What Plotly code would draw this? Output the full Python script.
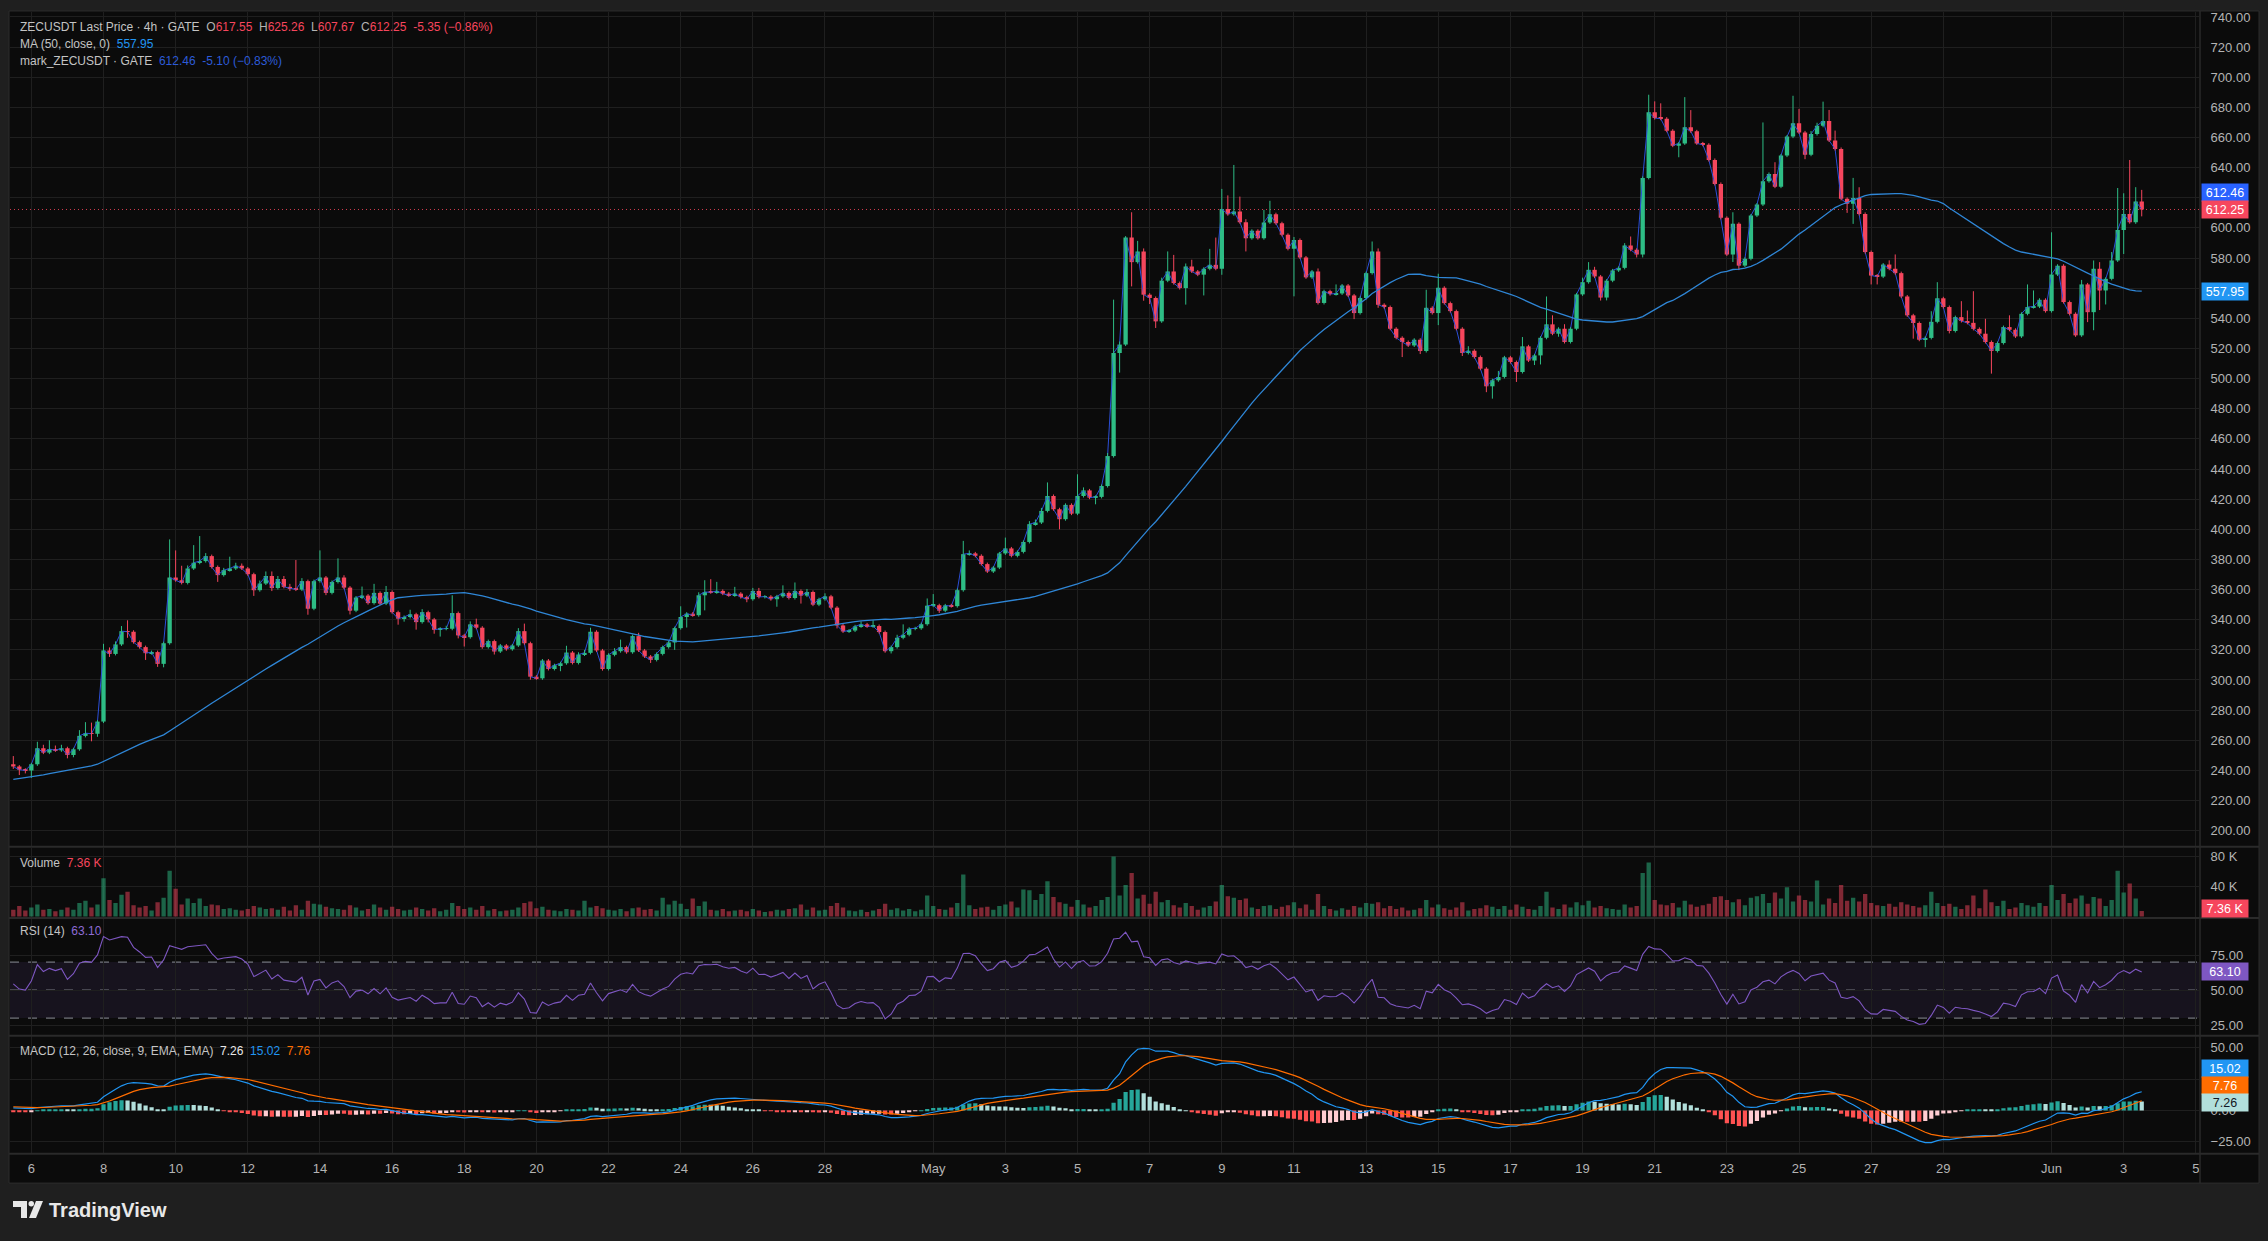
import pandas as pd
import plotly.graph_objects as go

W, H = 2268, 1241
def px(x): return x / W
def py(y): return 1 - y / H

FIRST_CANDLE = "2026-04-05 12:00"
X_RANGE = ["2026-04-05 09:48", "2026-06-05 02:06"]

# closes of the candles before the visible window (used only for indicator warm-up)
prior_closes = [214, 216, 213, 217, 219, 216, 218, 221, 219, 220, 218, 222, 224, 221, 223,
                226, 229, 232, 230, 234, 237, 235, 238, 240, 243, 241, 239, 242, 244, 241,
                243, 246, 244, 242, 245, 243, 240, 242, 244, 247, 245, 243, 241, 244, 246, 243, 241, 243, 244]

closes = [
    242.5, 240.4, 240.0, 244.0, 254.7, 251.8, 254.2, 253.3, 254.7, 250.2,
    254.0, 262.9, 264.7, 264.3, 272.4, 319.6, 317.3, 323.6, 332.4, 332.0,
    325.1, 321.8, 317.8, 318.5, 310.7, 324.4, 368.0, 366.2, 364.4, 374.0,
    377.8, 378.9, 382.2, 375.0, 369.6, 372.9, 374.0, 375.8, 374.0, 370.2,
    359.6, 364.0, 369.0, 361.0, 367.0, 361.8, 361.0, 360.0, 365.6, 347.3,
    365.6, 368.0, 357.8, 365.0, 368.0, 361.3, 346.0, 354.7, 356.0, 351.0,
    357.8, 350.7, 358.4, 345.0, 340.7, 341.8, 343.6, 338.4, 345.0, 340.2,
    333.3, 334.0, 334.0, 344.4, 329.6, 328.4, 336.9, 334.7, 321.8, 325.8,
    318.9, 322.9, 320.4, 322.9, 332.4, 324.4, 302.2, 301.1, 312.9, 307.3,
    309.8, 311.1, 318.2, 311.3, 316.9, 318.0, 332.0, 319.6, 307.3, 316.7,
    319.1, 321.8, 318.4, 329.1, 319.6, 315.6, 313.3, 317.3, 321.8, 324.9,
    334.4, 341.8, 344.0, 343.0, 356.2, 358.4, 358.2, 359.1, 357.3, 356.2,
    357.3, 355.0, 353.6, 359.1, 355.1, 355.3, 353.6, 355.5, 357.8, 354.4,
    359.1, 356.0, 358.4, 350.0, 353.6, 355.5, 348.0, 336.2, 332.2, 332.8,
    335.6, 336.9, 335.6, 335.8, 331.8, 319.1, 321.8, 328.0, 330.0, 334.0,
    334.3, 337.0, 349.3, 349.6, 346.0, 349.5, 349.0, 359.6, 383.5, 384.0,
    382.4, 376.9, 372.0, 374.6, 384.0, 387.3, 382.4, 385.0, 391.6, 403.4,
    404.5, 412.2, 422.1, 413.3, 406.7, 416.2, 410.4, 422.1, 425.8, 421.0,
    421.5, 428.7, 448.6, 517.0, 522.6, 593.6, 577.3, 584.4, 555.7, 553.5,
    538.0, 565.0, 571.1, 563.4, 560.1, 574.4, 571.1, 569.0, 572.9, 575.5,
    572.9, 612.6, 609.1, 610.9, 603.8, 593.2, 598.1, 593.2, 603.6, 609.1,
    603.1, 595.4, 586.1, 592.0, 580.4, 567.2, 571.1, 550.2, 558.0, 556.1,
    556.5, 561.8, 555.2, 543.5, 553.5, 570.0, 584.4, 549.0, 547.5, 533.1,
    527.1, 524.3, 522.0, 525.8, 518.3, 547.0, 543.5, 560.3, 550.1, 544.8,
    533.1, 517.0, 518.5, 514.3, 506.6, 494.9, 498.9, 501.1, 514.1, 511.0,
    504.4, 521.4, 512.0, 515.4, 527.1, 536.0, 529.8, 533.1, 524.3, 533.1,
    555.9, 564.0, 572.2, 567.8, 553.8, 565.0, 571.8, 573.5, 588.3, 585.5,
    582.4, 633.2, 676.7, 672.9, 672.5, 664.5, 654.6, 656.1, 666.8, 664.1,
    656.1, 655.2, 645.1, 629.2, 606.7, 582.4, 602.7, 575.0, 579.5, 608.2,
    615.5, 631.0, 635.8, 627.4, 648.0, 660.6, 669.4, 663.4, 648.6, 662.3,
    667.8, 671.0, 658.0, 652.4, 619.3, 616.0, 619.9, 609.3, 584.0, 568.4,
    567.7, 575.7, 572.9, 570.0, 554.5, 542.0, 536.9, 525.8, 527.0, 537.7,
    553.3, 547.5, 531.6, 540.8, 538.2, 537.0, 533.0, 529.8, 524.3, 518.3,
    523.6, 534.2, 532.4, 528.0, 543.0, 547.5, 547.8, 552.3, 544.8, 569.1,
    574.9, 550.8, 543.0, 528.7, 562.5, 544.1, 572.9, 558.5, 566.2, 578.4,
    598.7, 609.3, 603.8, 617.55, 612.25,
]

upper_wicks = [
    5.5, 1, 1, 1, 4.3, 2.3, 5.8, 2.3, 2.3, 1,
    1, 3.8, 7.3, 7, 1, 4.4, 2, 2, 3.4, 7.2,
    1, 1, 1, 1, 1, 1, 25.3, 18, 9.6, 2,
    11.7, 16.6, 2, 1, 1, 1.5, 7.8, 2, 1.5, 1,
    1, 2, 3, 3, 2, 2, 2, 18.6, 2, 1,
    1, 18, 1, 1, 12.7, 1.5, 1, 1, 6, 1,
    6, 1, 4, 1, 1, 1, 3, 1, 2, 1,
    1, 1, 2, 11.8, 1, 1, 2, 3.8, 1, 1,
    1, 1, 1, 1, 2, 5, 1, 1, 1, 1,
    1, 1, 4.5, 1, 1.5, 2, 2.7, 1, 1, 1,
    2, 5, 1, 1, 2.2, 1, 1, 1, 1, 1,
    1, 7.1, 1, 1, 2, 7.8, 8.5, 6, 1, 1,
    4.5, 1, 1, 2, 2, 1, 1, 1, 5, 1,
    5.6, 1, 2, 1, 1, 2, 1, 1, 1, 1,
    1, 2, 1, 3.8, 1, 1, 1, 2, 6.9, 1,
    1, 1, 4.8, 7.4, 1, 1, 1, 1, 8.8, 2,
    1, 1, 1, 1, 1, 7.2, 1, 1, 1, 2,
    2, 2, 9, 1, 1, 1, 1, 14.4, 2, 1,
    1, 1, 2, 35.4, 2, 1, 16.8, 7, 2, 1,
    1, 2, 13.3, 11, 1, 2, 4.5, 1, 1, 10.6,
    18.1, 13.3, 9, 30.9, 9.9, 2, 1, 1, 8.4, 8.9,
    1, 1, 1, 2, 1, 1, 1, 2, 1, 1,
    6, 1, 1, 1, 1, 1, 6.6, 2, 1, 1,
    1, 1, 1, 1, 1, 12, 1, 9.3, 1, 1,
    1, 1, 3, 1, 1, 1, 1, 4, 1, 1,
    1, 6.2, 1, 1, 1, 18.5, 6, 1, 3, 1,
    1, 3, 5.1, 2, 1, 1, 1, 1, 1.6, 6,
    1, 1, 11.7, 7.3, 9.8, 1, 1, 1, 20, 11.4,
    1, 1, 1, 1, 1, 1, 7.7, 1, 1, 1,
    1, 39, 1, 7.8, 1, 1, 18.3, 9.6, 1, 2,
    2, 12.8, 7.3, 6.6, 1, 1, 13.3, 7.1, 1, 1,
    1, 1, 2.8, 9.5, 1, 1, 1, 1, 1, 7,
    10.7, 1, 1, 1, 10.6, 7, 21, 1, 9.9, 1,
    1, 1, 7.8, 1, 1, 15, 10.7, 1, 1, 28,
    1, 1, 1, 1, 3, 1, 5.5, 4.4, 1, 5.6,
    27.8, 13.7, 35.8, 9.5, 7.71,
]

lower_wicks = [
    1.5, 3.5, 2, 5, 1, 1, 1, 1, 1, 2.2,
    1.5, 1, 1, 5, 2, 1, 2, 1, 1, 4,
    1, 1, 4.5, 1, 2, 2.3, 1, 1, 1, 1,
    1, 1, 1, 1, 4.5, 1, 1, 1, 1, 1,
    3.8, 1, 1, 2, 1, 1, 2, 1, 1, 4,
    1, 1, 1.5, 1, 1, 1, 2.5, 1, 1, 1,
    1, 1, 1, 1, 4, 2, 1, 5, 1, 2,
    2.6, 4.5, 1, 1, 2, 6.2, 1, 1, 1.1, 1,
    2, 1, 1, 1, 1, 1, 2, 1, 1, 1,
    1, 4, 1, 1, 1, 1, 1, 1, 1.1, 1,
    1, 1, 1, 1, 1, 1, 2, 1, 1, 1,
    4.9, 1, 7, 1, 1, 10, 1, 1, 1, 1,
    1, 1, 2, 1, 1, 1, 1, 5, 1, 1,
    1, 5.3, 1, 1, 1, 1, 1, 2, 1, 1,
    1, 1, 1, 1, 1, 1, 1.5, 1, 1, 1,
    1, 1, 1, 1, 1.5, 1, 1, 1, 1, 1,
    1, 1, 1, 1, 1, 1, 1, 1, 1, 1,
    1, 1, 1, 1, 6.7, 1, 1, 1, 1, 1,
    4.4, 1, 1, 1, 13, 1, 16.1, 1, 4, 4,
    4.4, 1, 1, 1, 1, 11, 1, 1, 13.8, 1,
    1, 4, 1, 1, 1, 8.8, 1, 1, 1, 1,
    1, 1, 1, 31.5, 1, 1, 1, 1, 1, 1,
    1, 1, 1, 4, 1, 1, 1, 2, 1, 1,
    1, 10, 1, 1, 2, 1, 1, 8, 1, 1,
    1, 2, 1, 1, 1, 3.9, 8.2, 1, 1, 1,
    6.6, 1, 1, 3, 6, 1, 1, 2, 1, 1,
    1, 1, 1, 1, 2, 1.9, 1, 1, 1, 1,
    2, 2, 1, 1, 1, 1, 1, 7.7, 1, 1,
    1, 1, 1, 1, 1, 1, 5, 3, 1, 1,
    1, 1, 1, 1, 1, 1, 1, 1, 3, 1,
    1, 1, 1, 1, 1, 6, 13.3, 1, 1, 5.9,
    5.2, 1, 1, 1, 1, 1, 10.4, 1, 5, 1,
    1, 1, 1.6, 1, 1, 1, 1, 1, 1, 15,
    1, 1, 1, 1, 1, 1, 1, 1, 1, 1,
    1, 1, 1, 1, 1, 6.6, 12, 13, 9.3, 1,
    1, 16, 1, 1.1, 4.58,
]

volumes_k = [
    9, 14, 8, 12, 16, 9, 10, 7, 9, 12,
    9, 18, 21, 12, 16, 51, 22, 18, 29, 33,
    15, 12, 14, 8, 19, 25, 61, 37, 16, 24,
    18, 24, 14, 16, 15, 10, 11, 9, 8, 10,
    14, 12, 10, 11, 9, 13, 8, 15, 9, 21,
    17, 16, 13, 11, 10, 9, 15, 12, 8, 10,
    16, 12, 9, 13, 10, 8, 9, 12, 10, 8,
    11, 7, 9, 18, 14, 10, 12, 9, 14, 8,
    10, 7, 8, 9, 12, 18, 20, 11, 13, 9,
    8, 7, 10, 9, 8, 21, 12, 14, 11, 9,
    8, 10, 7, 11, 12, 9, 10, 8, 25, 16,
    21, 17, 10, 24, 14, 20, 9, 8, 10, 7,
    8, 9, 7, 10, 8, 6, 7, 9, 8, 10,
    11, 16, 9, 12, 8, 9, 14, 18, 12, 8,
    7, 9, 6, 8, 10, 17, 9, 11, 8, 10,
    7, 9, 28, 14, 10, 9, 12, 18, 56, 15,
    10, 12, 13, 9, 14, 16, 20, 12, 36, 35,
    22, 30, 47, 26, 19, 17, 13, 22, 16, 12,
    14, 22, 26, 80, 28, 42, 58, 24, 29, 17,
    33, 19, 22, 15, 12, 18, 14, 9, 12, 14,
    20, 42, 27, 25, 22, 24, 12, 10, 14, 15,
    10, 13, 15, 19, 11, 16, 9, 30, 14, 10,
    8, 11, 9, 14, 12, 18, 17, 19, 11, 14,
    10, 12, 8, 9, 11, 22, 12, 16, 11, 9,
    12, 19, 8, 10, 11, 15, 13, 10, 14, 9,
    16, 13, 10, 9, 14, 33, 12, 10, 16, 12,
    19, 15, 21, 12, 14, 11, 10, 9, 16, 12,
    14, 58, 72, 22, 16, 15, 18, 12, 21, 16,
    13, 15, 17, 26, 27, 22, 19, 23, 15, 25,
    27, 30, 18, 32, 24, 39, 20, 28, 22, 20,
    48, 16, 24, 18, 42, 21, 25, 20, 30, 18,
    15, 14, 17, 13, 19, 16, 14, 12, 15, 33,
    18, 14, 17, 13, 10, 15, 28, 11, 36, 19,
    14, 21, 10, 12, 18, 15, 13, 18, 14, 42,
    22, 30, 18, 24, 28, 17, 26, 24, 14, 22,
    61, 32, 44, 24, 7.36,
]

tick_dates = ["2026-04-06", "2026-04-08", "2026-04-10", "2026-04-12", "2026-04-14", "2026-04-16",
              "2026-04-18", "2026-04-20", "2026-04-22", "2026-04-24", "2026-04-26", "2026-04-28",
              "2026-05-01", "2026-05-03", "2026-05-05", "2026-05-07", "2026-05-09", "2026-05-11",
              "2026-05-13", "2026-05-15", "2026-05-17", "2026-05-19", "2026-05-21", "2026-05-23",
              "2026-05-25", "2026-05-27", "2026-05-29", "2026-06-01", "2026-06-03", "2026-06-05"]
tick_labels = ["6", "8", "10", "12", "14", "16", "18", "20", "22", "24", "26", "28",
               "May", "3", "5", "7", "9", "11", "13", "15", "17", "19", "21", "23",
               "25", "27", "29", "Jun", "3", "5"]
price_ticks = [200, 220, 240, 260, 280, 300, 320, 340, 360, 380, 400, 420, 440, 460,
               480, 500, 520, 540, 560, 580, 600, 620, 640, 660, 680, 700, 720, 740]
price_hidden = [560, 620]          # tick labels hidden behind the value tags
volume_ticks = [40, 80]
volume_labels = ["40 K", "80 K"]
rsi_ticks = [25, 50, 75]
macd_ticks = [-25, 0, 25, 50]
macd_hidden = [25]

last_o, last_h, last_l, last_c = 617.55, 625.26, 607.67, 612.25
last_chg, last_pct = -5.35, -0.86
ma_last = 557.95
mark_last, mark_chg, mark_pct = 612.46, -5.10, -0.83
vol_last = 7.36
rsi_last = 63.10
macd_last, signal_last, hist_last = 15.02, 7.76, 7.26

# ---------------------------------------------------------------- derived
n = len(closes)
t = pd.date_range(FIRST_CANDLE, periods=n, freq="4h")
opens = [prior_closes[-1]] + closes[:-1]
highs = [max(o, c) + u for o, c, u in zip(opens, closes, upper_wicks)]
lows = [min(o, c) - d for o, c, d in zip(opens, closes, lower_wicks)]
up = [c >= o for o, c in zip(opens, closes)]

allc = pd.Series(prior_closes + closes, dtype=float)
k0 = len(prior_closes)
ma50 = allc.rolling(50).mean().iloc[k0:].values
ema12 = allc.ewm(span=12, adjust=False).mean()
ema26 = allc.ewm(span=26, adjust=False).mean()
macd_s = ema12 - ema26
sig_s = macd_s.ewm(span=9, adjust=False).mean()
hist_s = macd_s - sig_s
delta = allc.diff()
gain = delta.clip(lower=0).ewm(alpha=1 / 14, adjust=False).mean()
loss = (-delta.clip(upper=0)).ewm(alpha=1 / 14, adjust=False).mean()
rsi_s = 100 - 100 / (1 + gain / loss)

macd_v = macd_s.iloc[k0:].values
sig_v = sig_s.iloc[k0:].values
hist_all = hist_s.values
hist_v = hist_all[k0:]
rsi_v = rsi_s.iloc[k0:].values

UP = "#2ebd85"
DN = "#f6465d"
GRID = "#1f1f1f"
TXT = "#b4b4b4"
FONT = "Liberation Sans, Arial, sans-serif"
CW = 4 * 3600 * 1000

fig = go.Figure()

# mark price line
mark_series = closes[:-1] + [mark_last]
fig.add_trace(go.Scatter(x=t, y=mark_series, mode="lines", line=dict(color="#2b4fd8", width=1),
                         xaxis="x", yaxis="y", hoverinfo="skip"))

# wicks
for flag, col in ((True, UP), (False, DN)):
    wx, wy = [], []
    for i in range(n):
        if up[i] == flag:
            wx += [t[i], t[i], None]
            wy += [lows[i], highs[i], None]
    fig.add_trace(go.Scatter(x=wx, y=wy, mode="lines", line=dict(color=col, width=1),
                             xaxis="x", yaxis="y", hoverinfo="skip"))

# bodies
fig.add_trace(go.Bar(x=t, y=[max(abs(c - o), 0.5) for o, c in zip(opens, closes)],
                     base=[min(o, c) for o, c in zip(opens, closes)], width=CW * 0.72,
                     marker=dict(color=[UP if u else DN for u in up], line=dict(width=0)),
                     xaxis="x", yaxis="y", hoverinfo="skip"))

# MA 50
fig.add_trace(go.Scatter(x=t, y=ma50, mode="lines", line=dict(color="#2f86d6", width=1.3),
                         xaxis="x", yaxis="y", hoverinfo="skip"))

# volume
fig.add_trace(go.Bar(x=t, y=volumes_k, width=CW * 0.72,
                     marker=dict(color=["rgba(46,189,133,0.5)" if u else "rgba(246,70,93,0.5)" for u in up],
                                 line=dict(width=0)),
                     xaxis="x2", yaxis="y2", hoverinfo="skip"))

# RSI
fig.add_trace(go.Scatter(x=t, y=rsi_v, mode="lines", line=dict(color="#7e57c2", width=1.1),
                         xaxis="x3", yaxis="y3", hoverinfo="skip"))

# MACD histogram
hcols = []
for i in range(n):
    h = hist_all[k0 + i]
    p = hist_all[k0 + i - 1]
    if h >= 0:
        hcols.append("#26a69a" if h >= p else "#b2dfdb")
    else:
        hcols.append("#ff5252" if h < p else "#ffcdd2")
fig.add_trace(go.Bar(x=t, y=hist_v, width=CW * 0.7, marker=dict(color=hcols, line=dict(width=0)),
                     xaxis="x4", yaxis="y4", hoverinfo="skip"))
fig.add_trace(go.Scatter(x=t, y=macd_v, mode="lines", line=dict(color="#2196f3", width=1.2),
                         xaxis="x4", yaxis="y4", hoverinfo="skip"))
fig.add_trace(go.Scatter(x=t, y=sig_v, mode="lines", line=dict(color="#ff6d00", width=1.2),
                         xaxis="x4", yaxis="y4", hoverinfo="skip"))

# ---------------------------------------------------------------- layout
xdom = [px(10), px(2199)]
def xax(anchor, labels=False):
    d = dict(domain=xdom, anchor=anchor, type="date", range=X_RANGE, tickmode="array",
             tickvals=tick_dates, showgrid=True, gridcolor=GRID, gridwidth=1, zeroline=False,
             showline=False, showticklabels=labels, fixedrange=True)
    if labels:
        d.update(ticktext=tick_labels, tickfont=dict(family=FONT, size=13, color=TXT), ticks="outside",
                 ticklen=3, tickcolor="rgba(0,0,0,0)")
    return d

def yax(anchor, dom, rng, vals, text):
    return dict(domain=dom, anchor=anchor, range=rng, side="right", tickmode="array", tickvals=vals,
                ticktext=text, showgrid=True, gridcolor=GRID, gridwidth=1, zeroline=False, showline=False,
                ticks="outside", ticklen=8, tickcolor="rgba(0,0,0,0)",
                tickfont=dict(family=FONT, size=13, color=TXT), fixedrange=True)

def fmt_ticks(vals, hidden=()):
    return ["" if v in hidden else f"{v:.2f}" for v in vals]

layout = dict(
    width=W, height=H, margin=dict(l=0, r=0, t=0, b=0),
    paper_bgcolor="#1f1f1f", plot_bgcolor="rgba(0,0,0,0)",
    showlegend=False, barmode="overlay", hovermode=False,
    xaxis=xax("y"), xaxis2=xax("y2"), xaxis3=xax("y3"), xaxis4=xax("y4", labels=True),
    yaxis=yax("x", [py(845), py(10)], [190.06, 743.31], price_ticks, fmt_ticks(price_ticks, price_hidden)),
    yaxis2=yax("x2", [py(917), py(847)], [-1.33, 92.0], volume_ticks, volume_labels),
    yaxis3=yax("x3", [py(1035), py(918)], [17.7, 101.1], rsi_ticks, fmt_ticks(rsi_ticks)),
    yaxis4=yax("x4", [py(1153), py(1036)], [-34.0, 59.2], macd_ticks,
               [("\u221225.00" if v < 0 else f"{v:.2f}") if v not in macd_hidden else "" for v in macd_ticks]),
)
fig.update_layout(**layout)

shapes = []
# chart frame
shapes.append(dict(type="rect", xref="paper", yref="paper", x0=px(9), x1=px(2259), y0=py(1183), y1=py(9),
                   fillcolor="#0b0b0b", line=dict(color="#2c2c2c", width=1), layer="below"))
for yy in (846, 917.5, 1035.5, 1153.5):
    shapes.append(dict(type="line", xref="paper", yref="paper", x0=px(9), x1=px(2259), y0=py(yy), y1=py(yy),
                       line=dict(color="#2a2a2a", width=2), layer="above"))
shapes.append(dict(type="line", xref="paper", yref="paper", x0=px(2200), x1=px(2200), y0=py(1183), y1=py(9),
                   line=dict(color="#2a2a2a", width=1.5), layer="above"))
# last price line
shapes.append(dict(type="line", xref="x domain", yref="y", x0=0, x1=1, y0=last_c, y1=last_c,
                   line=dict(color="rgba(246,70,93,0.85)", width=1, dash="1px,3px"), layer="below"))
# RSI band
shapes.append(dict(type="rect", xref="x3 domain", yref="y3", x0=0, x1=1, y0=30, y1=70,
                   fillcolor="rgba(126,87,194,0.11)", line=dict(width=0), layer="below"))
for lv in (70, 50, 30):
    shapes.append(dict(type="line", xref="x3 domain", yref="y3", x0=0, x1=1, y0=lv, y1=lv,
                       line=dict(color="#8a8d96", width=1, dash="dash"), layer="below"))

# TradingView logo
def path(pts):
    s = ""
    for i, (a, b) in enumerate(pts):
        s += ("M" if i == 0 else "L") + f"{px(a):.6f},{py(b):.6f} "
    return s + "Z"
shapes.append(dict(type="path", xref="paper", yref="paper",
                   path=path([(13, 1201), (27, 1201), (27, 1218), (21, 1218), (21, 1207), (13, 1207)]),
                   fillcolor="#e8e8e8", line=dict(width=0)))
shapes.append(dict(type="circle", xref="paper", yref="paper", x0=px(28.5), x1=px(34), y0=py(1206.5), y1=py(1201),
                   fillcolor="#e8e8e8", line=dict(width=0)))
shapes.append(dict(type="path", xref="paper", yref="paper",
                   path=path([(29, 1218), (36, 1201), (43, 1201), (36, 1218)]),
                   fillcolor="#e8e8e8", line=dict(width=0)))
fig.update_layout(shapes=shapes)

def span(txt, col):
    return f'<span style="color:{col}">{txt}</span>'

NB = "\u00a0"
def sgn(v):
    return ("\u2212" if v < 0 else "") + f"{abs(v):.2f}"

ann = []
def text_ann(x, y, text, size=12):
    ann.append(dict(xref="paper", yref="paper", x=px(x), y=py(y), xanchor="left", yanchor="middle",
                    text=text, showarrow=False, font=dict(family=FONT, size=size, color=TXT)))

line1 = (span("ZECUSDT Last Price · 4h · GATE", "#c4c4c4") + NB * 2 +
         "O" + span(f"{last_o:.2f}", DN) + NB * 2 + "H" + span(f"{last_h:.2f}", DN) + NB * 2 +
         "L" + span(f"{last_l:.2f}", DN) + NB * 2 + "C" + span(f"{last_c:.2f}", DN) + NB * 2 +
         span(f"{last_chg:.2f} ({sgn(last_pct)}%)", DN))
text_ann(18, 25, line1)
text_ann(18, 42, span("MA (50, close, 0)", "#c4c4c4") + NB * 2 + span(f"{ma_last:.2f}", "#2196f3"))
text_ann(18, 59, span("mark_ZECUSDT · GATE", "#c4c4c4") + NB * 2 +
         span(f"{mark_last:.2f}{NB * 2}{mark_chg:.2f} ({sgn(mark_pct)}%)", "#2d5bd9"))
text_ann(18, 862, span("Volume", "#c4c4c4") + NB * 2 + span(f"{vol_last:.2f} K", DN))
text_ann(18, 931, span("RSI (14)", "#c4c4c4") + NB * 2 + span(f"{rsi_last:.2f}", "#8f6bd6"))
text_ann(18, 1051, span("MACD (12, 26, close, 9, EMA, EMA)", "#c4c4c4") + NB * 2 +
         span(f"{hist_last:.2f}", "#e8e8e8") + NB * 2 + span(f"{macd_last:.2f}", "#2196f3") + NB * 2 +
         span(f"{signal_last:.2f}", "#ff6d00"))

def tag(yref, val, text, bg, fg="#ffffff", shift=0):
    ann.append(dict(xref="paper", yref=yref, x=px(2201), y=val, xanchor="left", yanchor="middle",
                    text=text, showarrow=False, bgcolor=bg, borderpad=2, width=42, height=13,
                    yshift=shift, font=dict(family=FONT, size=12.5, color=fg)))

tag("y", mark_last, f"{mark_last:.2f}", "#2962ff", shift=16.5)
tag("y", last_c, f"{last_c:.2f}", DN)
tag("y", ma_last, f"{ma_last:.2f}", "#2196f3")
tag("y2", vol_last, f"{vol_last:.2f} K", DN, shift=3)
tag("y3", rsi_last, f"{rsi_last:.2f}", "#7e57c2")
tag("y4", macd_last, f"{macd_last:.2f}", "#2196f3", shift=23)
tag("y4", signal_last, f"{signal_last:.2f}", "#ff6d00", shift=15)
tag("y4", hist_last, f"{hist_last:.2f}", "#b2dfdb", fg="#131722", shift=-1)

ann.append(dict(xref="paper", yref="paper", x=px(47), y=py(1210), xanchor="left", yanchor="middle",
                text="<b>TradingView</b>", showarrow=False,
                font=dict(family=FONT, size=20, color="#e8e8e8")))
fig.update_layout(annotations=ann)

fig.write_html("out.html")
